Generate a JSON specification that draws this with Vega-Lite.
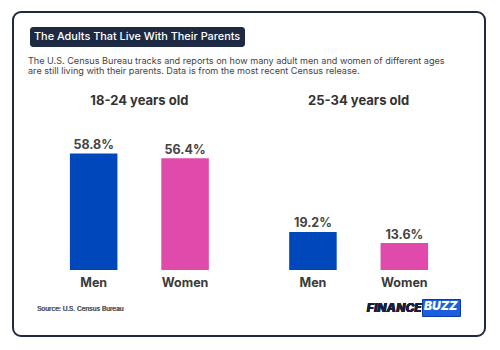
{
  "$schema": "https://vega.github.io/schema/vega-lite/v6.json",
  "width": 500,
  "height": 350,
  "autosize": {"type": "fit", "contains": "padding"},
  "padding": {"left": 13, "top": 12, "right": 15, "bottom": 14},
  "background": "#ffffff",
  "title": {
    "text": ["The U.S. Census Bureau tracks and reports on how many adult men and women of different ages", "are still living with their parents. Data is from the most recent Census release."],
    "anchor": "start",
    "frame": "group",
    "orient": "top",
    "offset": -64,
    "dx": 15,
    "font": "Inter",
    "fontSize": 9.1,
    "fontWeight": 400,
    "color": "#444444",
    "lineHeight": 10
  },
  "data": {
    "values": [
      {"age": "18-24 years old", "gender": "Men", "share": 0.588},
      {"age": "18-24 years old", "gender": "Women", "share": 0.564},
      {"age": "25-34 years old", "gender": "Men", "share": 0.192},
      {"age": "25-34 years old", "gender": "Women", "share": 0.136}
    ]
  },
  "encoding": {
    "x": {
      "field": "age",
      "type": "nominal",
      "scale": {"type": "band", "paddingInner": 0, "paddingOuter": 0.0764},
      "axis": {
        "orient": "top",
        "title": null,
        "domain": false,
        "ticks": false,
        "labelAngle": 0,
        "labelFont": "Inter",
        "labelFontSize": 13,
        "labelFontWeight": 700,
        "labelColor": "#333333",
        "labelPadding": 0,
        "offset": -95
      }
    },
    "xOffset": {
      "field": "gender",
      "type": "nominal",
      "scale": {"paddingInner": 0.48, "paddingOuter": 0.4394}
    }
  },
  "layer": [
    {
      "mark": {"type": "bar"},
      "encoding": {
        "y": {
          "field": "share",
          "type": "quantitative",
          "scale": {"domain": [-0.3333, 1.303], "nice": false, "zero": false},
          "axis": null
        },
        "color": {
          "field": "gender",
          "type": "nominal",
          "scale": {"domain": ["Men", "Women"], "range": ["#0047bb", "#e04aab"]},
          "legend": {
            "orient": "none",
            "legendX": 17,
            "legendY": 15,
            "title": "The Adults That Live With Their Parents",
            "titleFont": "Inter",
            "titleFontSize": 10.9,
            "titleFontWeight": 500,
            "titleColor": "#ffffff",
            "titleLimit": 400,
            "titleOrient": "top",
            "titleBaseline": "top",
            "titlePadding": 0,
            "direction": "horizontal",
            "fillColor": "#1e2a44",
            "cornerRadius": 3,
            "padding": 4,
            "symbolSize": 0,
            "symbolStrokeWidth": 0,
            "symbolOpacity": 0,
            "labelExpr": "''",
            "labelFontSize": 1,
            "labelOffset": 0,
            "columnPadding": 0,
            "rowPadding": 0,
            "symbolOffset": 0
          }
        },
        "opacity": {
          "field": "age",
          "type": "nominal",
          "scale": {"range": [1, 1]},
          "legend": {
            "orient": "none",
            "legendX": 409,
            "legendY": 287,
            "title": "BUZZ",
            "titleFont": "Inter",
            "titleFontSize": 12,
            "titleFontWeight": 900,
            "titleFontStyle": "italic",
            "titleColor": "#ffffff",
            "titleOrient": "top",
            "titleBaseline": "top",
            "titlePadding": 0,
            "direction": "horizontal",
            "fillColor": "#1c5ee0",
            "strokeColor": "#0d3a9e",
            "cornerRadius": 0,
            "padding": 2,
            "symbolSize": 0,
            "symbolStrokeWidth": 0,
            "symbolOpacity": 0,
            "labelExpr": "''",
            "labelFontSize": 1,
            "labelOffset": 0,
            "columnPadding": 0,
            "rowPadding": 0,
            "symbolOffset": 0
          }
        }
      }
    },
    {
      "mark": {"type": "text", "font": "Inter", "fontSize": 12.5, "fontWeight": 700, "color": "#444444", "baseline": "alphabetic", "dy": -4.5},
      "encoding": {
        "y": {"field": "share", "type": "quantitative"},
        "text": {"field": "share", "type": "quantitative", "format": ".1%"}
      }
    },
    {
      "mark": {"type": "text", "font": "Inter", "fontSize": 12.5, "fontWeight": 700, "color": "#3a3a3a", "baseline": "alphabetic", "dy": 17},
      "encoding": {
        "y": {"datum": 0, "type": "quantitative"},
        "text": {"field": "gender", "type": "nominal"}
      }
    },
    {
      "mark": {"type": "text", "font": "Inter", "fontSize": 6.5, "color": "#666666", "align": "left", "baseline": "alphabetic", "dx": -56.5, "dy": 40.5},
      "encoding": {
        "x": {"datum": "18-24 years old"},
        "xOffset": {"datum": "Men"},
        "y": {"datum": 0, "type": "quantitative"},
        "text": {"value": "Source: U.S. Census Bureau"}
      }
    },
    {
      "mark": {"type": "text", "font": "Inter", "fontSize": 12, "fontWeight": 900, "fontStyle": "italic", "color": "#1b1d3a", "align": "right", "baseline": "alphabetic", "dx": 17.5, "dy": 41.7},
      "encoding": {
        "x": {"datum": "25-34 years old"},
        "xOffset": {"datum": "Women"},
        "y": {"datum": 0, "type": "quantitative"},
        "text": {"value": "FINANCE"}
      }
    }
  ],
  "config": {
    "view": {"stroke": "#1f2a40", "strokeWidth": 2, "cornerRadius": 8}
  }
}
